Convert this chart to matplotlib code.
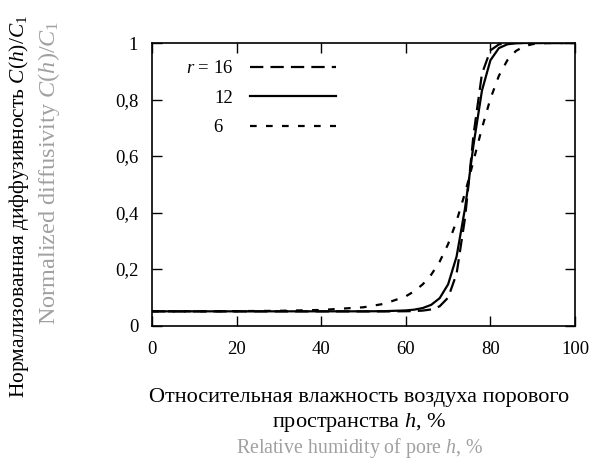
import matplotlib
matplotlib.use("Agg")
from matplotlib import pyplot as plt
from matplotlib.ticker import FixedLocator

plt.rcParams['font.family'] = ['Liberation Serif', 'DejaVu Serif']
plt.rcParams['mathtext.fontset'] = 'custom'
plt.rcParams['mathtext.rm'] = 'Liberation Serif'
plt.rcParams['mathtext.it'] = 'Liberation Serif:italic'

# relative humidity h, %
h = [0, 10, 20, 30, 40, 50, 55, 60, 62, 64, 66, 68, 70, 72, 74, 75,
     76, 78, 80, 82, 84, 86, 88, 90, 92, 95, 100]
# normalized diffusivity C(h)/C1
c_r16 = [0.050, 0.050, 0.050, 0.050, 0.050, 0.050, 0.050, 0.0505, 0.0512, 0.0528,
         0.0569, 0.068, 0.0987, 0.1832, 0.3807, 0.525, 0.6748, 0.8912, 0.974,
         0.9951, 0.9992, 1.0, 1.0, 1.0, 1.0, 1.0, 1.0]
c_r12 = [0.0502, 0.0502, 0.0502, 0.0502, 0.0502, 0.0502, 0.0508, 0.0534, 0.0562, 0.0618,
         0.0732, 0.0967, 0.1458, 0.244, 0.4152, 0.525, 0.6391, 0.8315, 0.9389,
         0.9819, 0.9955, 0.9991, 1.0, 1.0, 1.0, 1.0, 1.0]
c_r6 = [0.0502, 0.0504, 0.0509, 0.052, 0.055, 0.0646, 0.0771, 0.1034, 0.1213, 0.1458,
        0.1797, 0.226, 0.2883, 0.3695, 0.4694, 0.525, 0.5829, 0.6987, 0.8027,
        0.8838, 0.9389, 0.9716, 0.9885, 0.9961, 0.999, 1.0, 1.0]

x_ticks = [0, 20, 40, 60, 80, 100]
y_ticks = [0, 0.2, 0.4, 0.6, 0.8, 1.0]
y_tick_labels = ['0', '0,2', '0,4', '0,6', '0,8', '1']

fig = plt.figure(figsize=(5.92, 4.61), dpi=100)
ax = fig.add_axes([0.2568, 0.2939, 0.9713 - 0.2568, 0.9067 - 0.2939])

ax.plot(h, c_r16, color='black', lw=1.6, dashes=(6, 3.2), label='$r$ = 16')
ax.plot(h, c_r12, color='black', lw=1.6, label='12')
ax.plot(h, c_r6, color='black', lw=1.6, dashes=(3, 4.2), label='6\u2002')

ax.set_xlim(0, 100)
ax.set_ylim(0, 1)
ax.xaxis.set_major_locator(FixedLocator(x_ticks))
ax.set_xticklabels([str(t) for t in x_ticks])
ax.yaxis.set_major_locator(FixedLocator(y_ticks))
ax.set_yticklabels(y_tick_labels)
ax.tick_params(direction='in', length=7.5, width=1.0, top=True, right=True,
               labelsize=13.5)
ax.tick_params(axis='x', pad=11)
ax.tick_params(axis='y', pad=10)
for s in ax.spines.values():
    s.set_linewidth(1.2)

ax.legend(loc='upper right', bbox_to_anchor=(0.435, 0.94), frameon=False,
          markerfirst=False, fontsize=13.5, handlelength=4.6, handletextpad=0.9,
          labelspacing=0.66, borderpad=0, borderaxespad=0)

# y axis titles (russian + english)
fig.text(0.032, 0.967, 'Нормализованная диффузивность $C(h)/C_1$', rotation=90,
         ha='center', va='top', fontsize=15.4)
fig.text(0.082, 0.955, 'Normalized diffusivity $C(h)/C_1$', rotation=90,
         ha='center', va='top', fontsize=17.5, color='#a0a0a0')

# x axis titles
fig.text(0.607, 1 - 397 / 461, 'Относительная влажность воздуха порового',
         ha='center', va='center', fontsize=16)
fig.text(0.607, 1 - 422 / 461, 'пространства $h$, %',
         ha='center', va='center', fontsize=16)
fig.text(0.607, 1 - 448 / 461, 'Relative humidity of pore $h$, %',
         ha='center', va='center', fontsize=14.3, color='#a0a0a0')

fig.savefig('out.png', dpi=100)
